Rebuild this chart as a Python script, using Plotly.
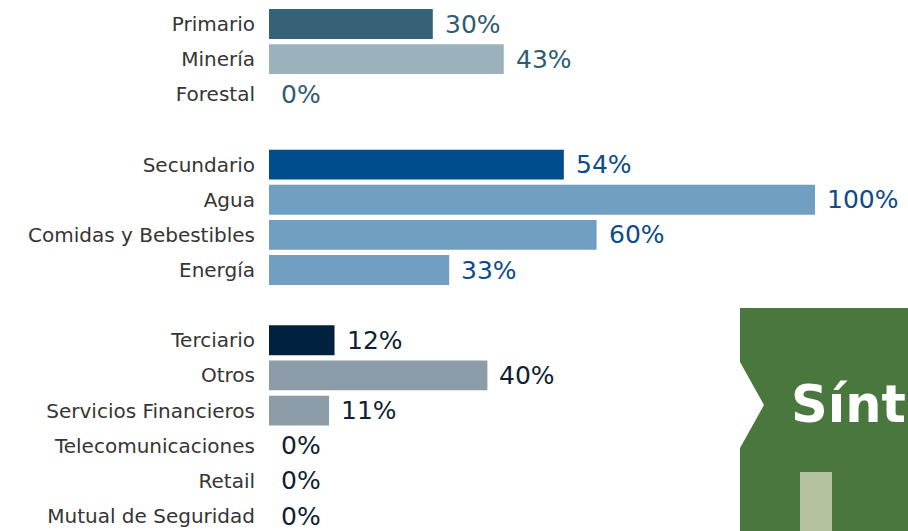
import plotly.graph_objects as go

# Sector groups: first entry of each group is the sector total
primario_names = ["Primario", "Minería", "Forestal"]
primario_vals = [30, 43, 0]
primario_colors = ["#356277", "#9BB1BC", "#9BB1BC"]

secundario_names = ["Secundario", "Agua", "Comidas y Bebestibles", "Energía"]
secundario_vals = [54, 100, 60, 33]
secundario_colors = ["#004D8D", "#719FC2", "#719FC2", "#719FC2"]

terciario_names = ["Terciario", "Otros", "Servicios Financieros",
                   "Telecomunicaciones", "Retail", "Mutual de Seguridad"]
terciario_vals = [12, 40, 11, 0, 0, 0]
terciario_colors = ["#00223F", "#8C9CA9", "#8C9CA9", "#8C9CA9", "#8C9CA9", "#8C9CA9"]

groups = [
    (primario_names, primario_vals, primario_colors, "#2F5C72"),
    (secundario_names, secundario_vals, secundario_colors, "#0C4B8C"),
    (terciario_names, terciario_vals, terciario_colors, "#0F1F35"),
]

W, H = 908, 531
LABEL_FONT = "DejaVu Sans"

fig = go.Figure()
rows, ticktext, value_labels = [], [], []
row = 0
for names, vals, colors, txtcol in groups:
    ys = list(range(row, row + len(names)))
    fig.add_trace(go.Bar(
        x=vals, y=ys, orientation="h",
        marker=dict(color=colors, line=dict(width=0)),
        showlegend=False,
        hoverinfo="skip",
    ))
    for v, y in zip(vals, ys):
        value_labels.append(dict(
            x=v, y=y, xref="x", yref="y", text=f"{v}%",
            xanchor="left", yanchor="middle", xshift=10, showarrow=False,
            font=dict(family=LABEL_FONT, size=25, color=txtcol),
        ))
    rows += ys
    ticktext += names
    row += len(names) + 1  # blank row between groups

last_row = rows[-1]


# Slide panel decoration on the lower right (pixel -> paper helpers)
def px(x):
    return x / W


def py(y):
    return 1 - y / H


panel_path = (
    f"M {px(740)} {py(308)} L {px(910)} {py(308)} L {px(910)} {py(533)} "
    f"L {px(740)} {py(533)} L {px(740)} {py(448)} L {px(764)} {py(405)} "
    f"L {px(740)} {py(362)} Z"
)

fig.update_layout(
    width=W, height=H,
    margin=dict(l=0, r=0, t=0, b=0),
    paper_bgcolor="white", plot_bgcolor="white",
    bargap=0.15,
    xaxis=dict(domain=[px(269), px(815)], range=[0, 100], visible=False,
               fixedrange=True),
    yaxis=dict(
        range=[last_row + 15 / 35.14, -24 / 35.14],
        tickmode="array", tickvals=rows, ticktext=ticktext,
        ticks="outside", ticklen=9, tickcolor="rgba(0,0,0,0)",
        showgrid=False, zeroline=False, showline=False,
        tickfont=dict(family=LABEL_FONT, size=20, color="#353535"),
        fixedrange=True,
    ),
    shapes=[
        dict(type="path", xref="paper", yref="paper", path=panel_path,
             fillcolor="#4A773D", line=dict(width=0), layer="above"),
        dict(type="rect", xref="paper", yref="paper",
             x0=px(800), x1=px(832), y0=py(472), y1=py(533),
             fillcolor="#B2C29F", line=dict(width=0), layer="above"),
    ],
    annotations=value_labels + [
        dict(text="<b>Sínt</b>", xref="paper", yref="paper",
             x=px(789), y=py(404), xanchor="left", yanchor="middle",
             showarrow=False,
             font=dict(family="DejaVu Sans", size=51, color="white")),
    ],
)

fig.write_html("out.html")
